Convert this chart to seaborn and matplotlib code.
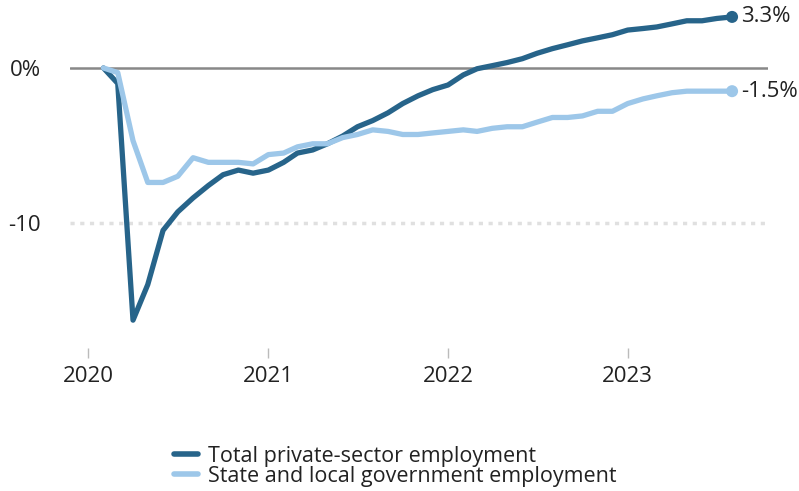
import numpy as np
import pandas as pd
import matplotlib
matplotlib.use("Agg")
import matplotlib.pyplot as plt
import matplotlib.dates as mdates
import seaborn as sns
from matplotlib.lines import Line2D

months = pd.date_range("2020-02-01", "2023-08-01", freq="MS")
private = [0.0, -1.0, -16.3, -14.0, -10.5, -9.3, -8.4, -7.6, -6.9, -6.6, -6.8, -6.6,
           -6.1, -5.5, -5.3, -4.9, -4.4, -3.8, -3.4, -2.9, -2.3, -1.8, -1.4, -1.1,
           -0.45, -0.05, 0.15, 0.35, 0.6, 0.95, 1.25, 1.5, 1.75, 1.95, 2.15, 2.45,
           2.55, 2.65, 2.85, 3.05, 3.05, 3.2, 3.3]
government = [0.0, -0.3, -4.7, -7.4, -7.4, -7.0, -5.8, -6.1, -6.1, -6.1, -6.2, -5.6,
              -5.5, -5.1, -4.9, -4.9, -4.5, -4.3, -4.0, -4.1, -4.3, -4.3, -4.2, -4.1,
              -4.0, -4.1, -3.9, -3.8, -3.8, -3.5, -3.2, -3.2, -3.1, -2.8, -2.8, -2.3,
              -2.0, -1.8, -1.6, -1.5, -1.5, -1.5, -1.5]
series_names = ["Total private-sector employment", "State and local government employment"]
end_labels = ["3.3%", "-1.5%"]
ytick_vals = [0, -10]
ytick_labels = ["0%", "-10"]
years = [2020, 2021, 2022, 2023]

colors = ["#27648a", "#9dc7e9"]

df = pd.DataFrame({
    "date": list(months) * 2,
    "value": private + government,
    "series": [series_names[0]] * len(months) + [series_names[1]] * len(months),
})

sns.set_theme(style="white")
plt.rcParams["font.family"] = ["Open Sans", "DejaVu Sans"]
FS = 16

fig = plt.figure(figsize=(7.99, 4.91), dpi=100)
W, H = 799, 491
left, right, top, bottom = 70, 768, 5, 348
ax = fig.add_axes([left / W, 1 - bottom / H, (right - left) / W, (bottom - top) / H])

ax.axhline(-10, color="#e0e0e0", lw=2.5, ls=(0, (1.2, 1.6)), zorder=0)
ax.axhline(0, color="#888888", lw=1.8, zorder=1)

sns.lineplot(data=df, x="date", y="value", hue="series", hue_order=series_names,
             palette=colors, linewidth=3.8, ax=ax, legend=False, zorder=3,
             solid_capstyle="round", solid_joinstyle="round")

for vals, c, lab in zip([private, government], colors, end_labels):
    ax.scatter([months[-1]], [vals[-1]], s=75, color=c, zorder=4, edgecolors="none")
    ax.annotate(lab, (months[-1], vals[-1]), xytext=(6.5, 0), textcoords="offset points",
                va="center", ha="left", fontsize=FS, color="#222222")

ax.set_ylim(-18.1, 4.07)
x0 = pd.Timestamp("2020-01-01") - pd.Timedelta(days=37)
x1 = pd.Timestamp("2023-10-13")
ax.set_xlim(x0, x1)

ax.set_yticks(ytick_vals)
ax.set_yticklabels(ytick_labels)
ax.set_xticks([pd.Timestamp(f"{y}-01-01") for y in years])
ax.set_xticklabels([str(y) for y in years])
ax.tick_params(axis="y", length=0, pad=21, labelsize=FS, labelcolor="#222222")
ax.tick_params(axis="x", length=7, width=1, color="#bbbbbb", direction="out", pad=6,
               labelsize=FS, labelcolor="#222222", bottom=True)
for lab in ax.get_yticklabels():
    lab.set_horizontalalignment("right")
for s in ax.spines.values():
    s.set_visible(False)
ax.set_xlabel("")
ax.set_ylabel("")

handles = [Line2D([0], [0], color=c, lw=4) for c in colors]
fig.legend(handles, series_names, loc="upper left", bbox_to_anchor=(165 / W, 1 - 437 / H),
           frameon=False, fontsize=15.5, handlelength=1.15, handletextpad=0.45,
           labelspacing=-0.05, borderaxespad=0, labelcolor="#222222")

fig.savefig("out.png", dpi=100)
